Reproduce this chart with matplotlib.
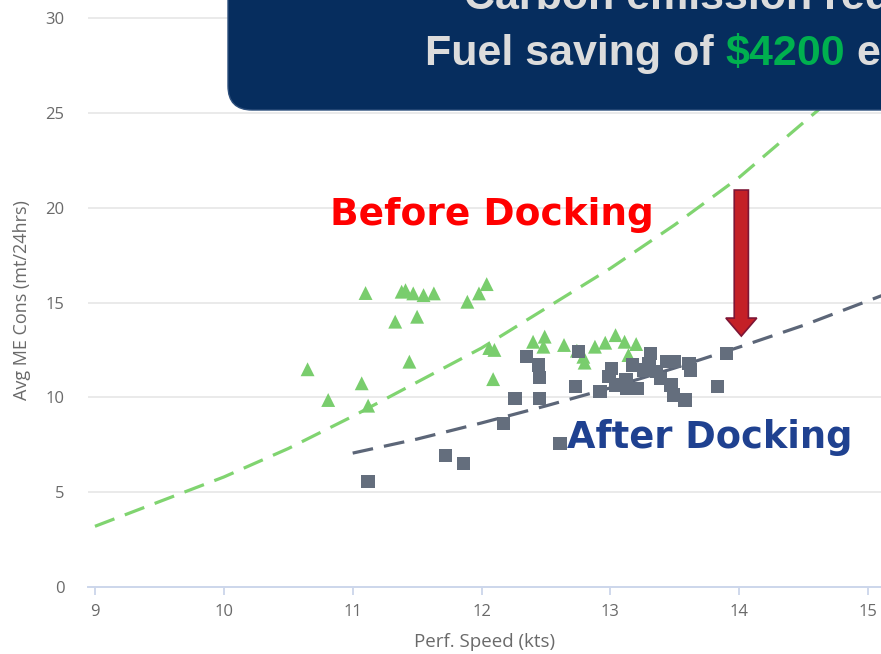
import matplotlib
matplotlib.use("Agg")
import matplotlib.pyplot as plt
from matplotlib.patches import FancyBboxPatch, FancyArrow
from matplotlib.transforms import IdentityTransform

# ---------------- data ----------------
before_speed = [10.65, 10.81, 11.07, 11.12, 11.10, 11.33, 11.38, 11.41, 11.44, 11.47,
                11.50, 11.55, 11.63, 11.89, 11.98, 12.04, 12.06, 12.10, 12.09, 12.40,
                12.49, 12.48, 12.64, 12.74, 12.79, 12.80, 12.88, 12.96, 13.04, 13.11,
                13.20, 13.14]
before_cons = [11.48, 9.86, 10.74, 9.56, 15.50, 13.99, 15.57, 15.65, 11.88, 15.48,
               14.25, 15.39, 15.48, 15.04, 15.48, 15.97, 12.60, 12.50, 10.96, 12.93,
               13.20, 12.67, 12.76, 12.46, 12.14, 11.83, 12.67, 12.88, 13.28, 12.93,
               12.81, 12.23]

after_speed = [11.12, 11.72, 11.86, 12.17, 12.26, 12.35, 12.44, 12.45, 12.45, 12.61,
               12.73, 12.75, 12.92, 12.99, 13.01, 13.04, 13.12, 13.13, 13.17, 13.21,
               13.26, 13.30, 13.31, 13.36, 13.39, 13.44, 13.47, 13.49, 13.50, 13.58,
               13.61, 13.62, 13.83, 13.90]
after_cons = [5.55, 6.92, 6.52, 8.63, 9.95, 12.14, 11.70, 11.05, 9.95, 7.58,
              10.56, 12.40, 10.30, 11.09, 11.53, 10.65, 10.91, 10.47, 11.70, 10.47,
              11.44, 11.79, 12.32, 11.35, 11.00, 11.88, 10.65, 10.12, 11.88, 9.86,
              11.79, 11.44, 10.56, 12.32]

before_trend_speed = [9.0, 9.5, 10.0, 10.5, 11.0, 11.5, 12.0, 12.5, 13.0, 13.5, 14.0, 14.5, 14.9]
before_trend_cons = [3.2, 4.5, 5.8, 7.3, 9.0, 10.8, 12.6, 14.7, 16.8, 19.1, 21.6, 24.5, 26.8]

after_trend_speed = [11.0, 11.5, 12.0, 12.5, 13.0, 13.5, 14.0, 14.5, 15.12]
after_trend_cons = [7.06, 7.8, 8.65, 9.55, 10.5, 11.55, 12.65, 13.8, 15.4]

x_ticks = [9, 10, 11, 12, 13, 14, 15]
y_ticks = [0, 5, 10, 15, 20, 25, 30]

x_label = "Perf. Speed (kts)"
y_label = "Avg ME Cons (mt/24hrs)"
title_line1 = "Carbon emission reduction"
title_line2_parts = [("Fuel saving of ", "#dcdcdc"), ("$4200", "#00b04f"), (" e", "#dcdcdc")]

# ---------------- figure ----------------
W, H = 881, 654
DPI = 100
plt.rcParams['lines.scale_dashes'] = False
fig = plt.figure(figsize=(W / DPI, H / DPI), dpi=DPI)
fig.patch.set_facecolor("white")

ax_left, ax_bottom_img = 88, 587
ax = fig.add_axes([ax_left / W, (H - ax_bottom_img) / H, 1 - ax_left / W, ax_bottom_img / H])
ax.set_xlim(8.946, 15.10)
ax.set_ylim(0, 30.95)

tick_font = dict(family="Open Sans", size=12, color="#6a6a6a")

ax.set_xticks(x_ticks)
ax.set_yticks(y_ticks)
ax.set_xticklabels([str(v) for v in x_ticks], fontdict=tick_font)
ax.set_yticklabels([str(v) for v in y_ticks], fontdict=tick_font)
ax.tick_params(axis="x", length=6, width=1.3, color="#ccd6eb", pad=6, direction="out")
ax.tick_params(axis="y", length=0, pad=17)
for s in ["top", "right", "left"]:
    ax.spines[s].set_visible(False)
ax.spines["bottom"].set_color("#ccd6eb")
ax.spines["bottom"].set_linewidth(1.4)
ax.yaxis.grid(True, color="#e6e6e6", linewidth=1.2)
ax.set_axisbelow(True)
ax.get_ygridlines()[0].set_visible(False)

# trend lines
ax.plot(before_trend_speed, before_trend_cons, color="#80d470", lw=2.3,
        dashes=(15, 8), solid_capstyle="butt", zorder=2)
ax.plot(after_trend_speed, after_trend_cons, color="#5c6678", lw=2.3,
        dashes=(15, 8), zorder=2)

# scatter points
ax.scatter(before_speed, before_cons, marker="^", s=100, color="#79cd6d",
           edgecolors="none", zorder=3)
ax.scatter(after_speed, after_cons, marker="s", s=92, color="#646e7d",
           edgecolors="none", zorder=3)

# annotations
ax.text(9 + (330 - 95) / 128.8, (587 - 225) / 18.97, "Before Docking",
        family="DejaVu Sans", weight="bold", size=27, color="#ff0000",
        ha="left", va="baseline", zorder=4)
ax.text(9 + (567 - 95) / 128.8, (587 - 448) / 18.97, "After Docking",
        family="DejaVu Sans", weight="bold", size=26.5, color="#1f4190",
        ha="left", va="baseline", zorder=4)

arrow = FancyArrow(14.016, 20.93, 0, -7.7, width=0.11, head_width=0.24,
                   head_length=0.95, length_includes_head=True,
                   facecolor="#c42027", edgecolor="#7d1535", linewidth=1.2, zorder=5)
ax.add_patch(arrow)

# axis titles
fig.text(22 / W, (H - 300) / H, y_label, rotation=90, ha="center", va="center",
         family="Open Sans", size=13, color="#6a6a6a")
fig.text(484.5 / W, (H - 642) / H, x_label, ha="center", va="center",
         family="Open Sans", size=13.5, color="#6a6a6a")

# title box (top right, clipped by the figure edge as in the reference)
box = FancyBboxPatch((228, H - 110), 1000, 200,
                     boxstyle="round,pad=0,rounding_size=24",
                     transform=IdentityTransform(), facecolor="#062d5e",
                     edgecolor="#2d4f7c", linewidth=1.0, zorder=10)
fig.patches.append(box)
box.set_figure(fig)

title_font = dict(family="Liberation Sans", weight="bold", size=31)
fig.text(464, H - 9, title_line1, transform=IdentityTransform(),
         ha="left", va="baseline", color="#dcdcdc", zorder=11, **title_font)

renderer = fig.canvas.get_renderer()
x_pos = 425
for txt, col in title_line2_parts:
    t = fig.text(x_pos, H - 65, txt, transform=IdentityTransform(),
                 ha="left", va="baseline", color=col, zorder=11, **title_font)
    bb = t.get_window_extent(renderer=renderer)
    x_pos = bb.x1

fig.savefig("out.png", dpi=DPI)
